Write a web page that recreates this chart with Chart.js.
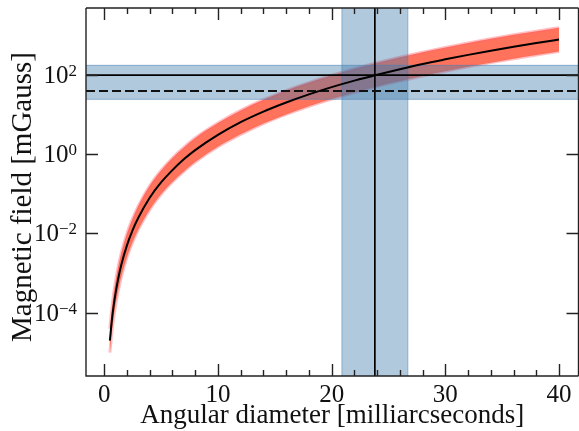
<!DOCTYPE html>
<html>
<head>
<meta charset="utf-8">
<script src="https://cdn.jsdelivr.net/npm/chart.js@4.4.1/dist/chart.umd.min.js"></script>
<style>
  html, body { margin: 0; padding: 0; background: #fff; overflow: hidden; }
  #wrap { width: 579px; height: 431px; }
</style>
</head>
<body>
<div id="wrap"><canvas id="chart" width="579" height="431"></canvas></div>
<script>
// angular diameter (mas) and field (mGauss)
const diam = [0.5, 0.6, 0.7, 0.8, 1, 1.2, 1.5, 2, 2.5, 3, 4, 5, 6, 7, 8, 10, 12, 14, 16, 18, 20, 22, 24, 26, 28, 30, 32, 34, 36, 38, 40];
const bField = [1.95e-5, 4.0e-5, 7.5e-5, 1.28e-4, 3.1e-4, 6.5e-4, 1.6e-3, 5.0e-3, 0.0122, 0.025, 0.080, 0.195, 0.40, 0.75, 1.28, 3.1, 6.5, 12, 20.4, 32.7, 50, 73, 103, 142, 192, 252, 327, 417, 524, 650, 798];
const bHigh = [3.9e-5, 8.1e-5, 1.5e-4, 2.6e-4, 6.2e-4, 1.3e-3, 3.2e-3, 0.010, 0.024, 0.050, 0.16, 0.39, 0.81, 1.5, 2.6, 6.2, 12.9, 24, 41, 65, 100, 146, 207, 285, 383, 505, 654, 834, 1048, 1300, 1596];
const bLow = [9.8e-6, 2.0e-5, 3.7e-5, 6.4e-5, 1.56e-4, 3.2e-4, 7.9e-4, 2.5e-3, 6.1e-3, 0.0126, 0.040, 0.098, 0.20, 0.37, 0.64, 1.56, 3.2, 6.0, 10.2, 16.4, 25, 36.5, 52, 71, 96, 126, 164, 208, 262, 325, 399];

const bMeasured = 100;
const bDashed = 40;
const bRange = [24.6, 178];
const diamMeasured = 23.8;
const diamRange = [20.9, 26.7];

const xTicks = [0, 10, 20, 30, 40];
const xMinor = [2, 4, 6, 8, 12, 14, 16, 18, 22, 24, 26, 28, 32, 34, 36, 38];
const yTicks = [1e-4, 1e-2, 1, 1e2];
const yExp = ["\u22124", "\u22122", "0", "2"];

const xMin = -1.6, xMax = 41.75;
const yMin = 2.5e-6, yMax = 5000;

const serif = "'Liberation Serif', 'DejaVu Serif', serif";
const blueFill = "rgba(60,120,170,0.4)";
const blueEdge = "rgba(70,130,180,0.55)";
const redEdge = "rgba(255,95,105,0.4)";

function pts(ys) {
  return diam.map((x, i) => ({ x: x, y: ys[i] }));
}

const axesPlugin = {
  id: "axesPlugin",
  afterDraw(chart) {
    const ctx = chart.ctx;
    const a = chart.chartArea;
    const xs = chart.scales.x, ys = chart.scales.y;
    const right = 578.5;
    ctx.save();
    ctx.strokeStyle = "#222";
    ctx.lineWidth = 1.4;
    ctx.beginPath();
    ctx.moveTo(a.left, a.top); ctx.lineTo(right, a.top);
    ctx.moveTo(a.left, a.top); ctx.lineTo(a.left, a.bottom);
    ctx.lineTo(right, a.bottom);
    ctx.moveTo(right, a.top); ctx.lineTo(right, a.bottom);
    // ticks point inward on all four sides
    xTicks.forEach(v => {
      const p = Math.round(xs.getPixelForValue(v)) + 0.5;
      ctx.moveTo(p, a.bottom); ctx.lineTo(p, a.bottom - 12);
      ctx.moveTo(p, a.top); ctx.lineTo(p, a.top + 12);
    });
    xMinor.forEach(v => {
      const p = Math.round(xs.getPixelForValue(v)) + 0.5;
      ctx.moveTo(p, a.bottom); ctx.lineTo(p, a.bottom - 6);
      ctx.moveTo(p, a.top); ctx.lineTo(p, a.top + 6);
    });
    yTicks.forEach(v => {
      const p = Math.round(ys.getPixelForValue(v)) + 0.5;
      ctx.moveTo(a.left, p); ctx.lineTo(a.left + 12, p);
      ctx.moveTo(right, p); ctx.lineTo(right - 12, p);
    });
    ctx.stroke();

    ctx.fillStyle = "#111";
    ctx.font = "25px " + serif;
    ctx.textAlign = "center";
    ctx.textBaseline = "alphabetic";
    xTicks.forEach(v => {
      ctx.fillText(String(v), xs.getPixelForValue(v), 402);
    });
    // y labels as 10 with a raised exponent
    yTicks.forEach((v, i) => {
      const p = ys.getPixelForValue(v);
      ctx.font = "17px " + serif;
      const supW = ctx.measureText(yExp[i]).width;
      ctx.textAlign = "left";
      ctx.fillText(yExp[i], 77 - supW, p + 1);
      ctx.font = "25px " + serif;
      const mainW = ctx.measureText("10").width;
      ctx.fillText("10", 77 - supW - mainW, p + 8);
    });
    ctx.textAlign = "center";
    ctx.font = "27px " + serif;
    ctx.fillText("Angular diameter [milliarcseconds]", (a.left + right) / 2, 423);
    ctx.font = "29px " + serif;
    ctx.translate(31, 197);
    ctx.rotate(-Math.PI / 2);
    ctx.fillText("Magnetic field [mGauss]", 0, 0);
    ctx.restore();
  }
};

const chart = new Chart(document.getElementById("chart"), {
  type: "line",
  data: {
    datasets: [
      { data: pts(bField), borderColor: "#000", borderWidth: 2, pointRadius: 0,
        cubicInterpolationMode: "monotone", fill: false, order: 0 },
      { data: [{ x: xMin, y: bMeasured }, { x: xMax, y: bMeasured }], borderColor: "#000",
        borderWidth: 1.7, pointRadius: 0, fill: false, order: 1 },
      { data: [{ x: xMin, y: bDashed }, { x: xMax, y: bDashed }], borderColor: "#111",
        borderWidth: 2, borderDash: [9, 4], pointRadius: 0, fill: false, order: 1 },
      { data: [{ x: diamMeasured, y: yMin }, { x: diamMeasured, y: yMax }], borderColor: "#000",
        borderWidth: 1.7, pointRadius: 0, fill: false, order: 1 },
      // horizontal band
      { data: [{ x: xMin, y: bRange[1] }, { x: xMax, y: bRange[1] }], borderColor: blueEdge,
        borderWidth: 1, pointRadius: 0, fill: "+1", backgroundColor: blueFill, order: 2 },
      { data: [{ x: xMin, y: bRange[0] }, { x: xMax, y: bRange[0] }], borderColor: blueEdge,
        borderWidth: 1, pointRadius: 0, fill: false, order: 2 },
      // vertical band
      { data: [{ x: diamRange[0], y: yMax }, { x: diamRange[1], y: yMax }], borderWidth: 0,
        pointRadius: 0, fill: "start", backgroundColor: blueFill, order: 3 },
      { data: [{ x: diamRange[0], y: yMin }, { x: diamRange[0], y: yMax }], borderColor: blueEdge,
        borderWidth: 1, pointRadius: 0, fill: false, order: 2 },
      { data: [{ x: diamRange[1], y: yMin }, { x: diamRange[1], y: yMax }], borderColor: blueEdge,
        borderWidth: 1, pointRadius: 0, fill: false, order: 2 },
      // red uncertainty band
      { data: pts(bHigh), borderColor: redEdge, borderWidth: 3, pointRadius: 0,
        cubicInterpolationMode: "monotone", fill: "+1", backgroundColor: "rgba(255,106,82,0.94)", order: 4 },
      { data: pts(bLow), borderColor: redEdge, borderWidth: 3, pointRadius: 0,
        cubicInterpolationMode: "monotone", fill: false, order: 4 }
    ]
  },
  options: {
    responsive: false,
    animation: false,
    devicePixelRatio: 1,
    layout: { padding: { top: 8, right: 0, left: 0, bottom: 0 } },
    plugins: { legend: { display: false }, tooltip: { enabled: false } },
    scales: {
      x: {
        type: "linear", min: xMin, max: xMax,
        grid: { display: false }, border: { display: false },
        ticks: { display: false },
        afterFit: s => { s.height = 55; }
      },
      y: {
        type: "logarithmic", min: yMin, max: yMax,
        grid: { display: false }, border: { display: false },
        ticks: { display: false },
        afterBuildTicks: s => { s.ticks = yTicks.map(v => ({ value: v })); },
        afterFit: s => { s.width = 86; }
      }
    }
  },
  plugins: [axesPlugin]
});
</script>
</body>
</html>
